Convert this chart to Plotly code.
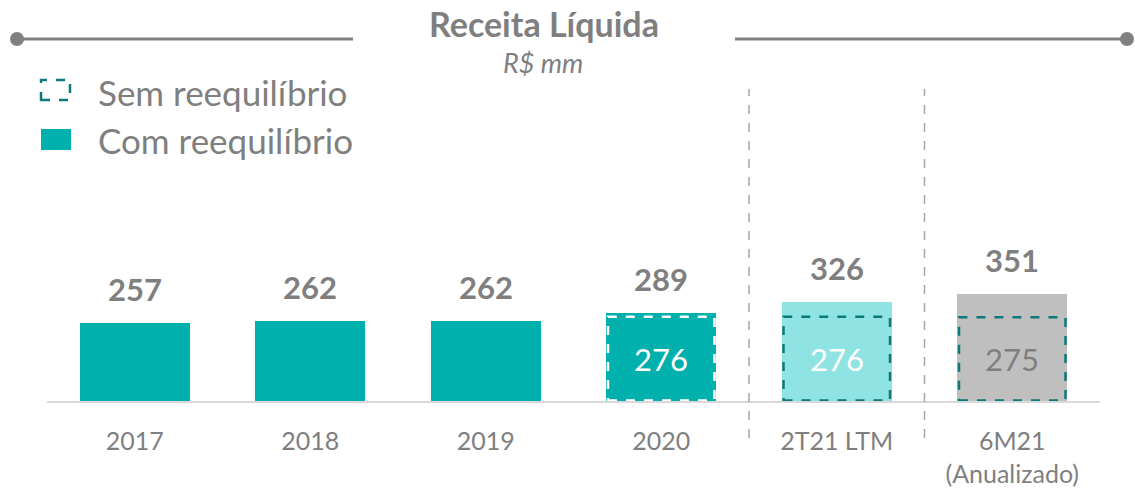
import plotly.graph_objects as go

categories = ["2017", "2018", "2019", "2020", "2T21 LTM", "6M21<br>(Anualizado)"]
com_reequilibrio = [257, 262, 262, 289, 326, 351]
sem_reequilibrio = [None, None, None, 276, 276, 275]
bar_colors = ["#00B0AD", "#00B0AD", "#00B0AD", "#00B0AD", "#8FE3E3", "#BFBFBF"]
box_colors = [None, None, None, "#FFFFFF", "#0B7A78", "#0B7A78"]
inner_text_colors = [None, None, None, "#FFFFFF", "#FFFFFF", "#7F7F7F"]

GRAY = "#7F7F7F"
FONT = "Lato"
W, H = 1135, 492
ML, MR, MT, MB = 47, 35, 80, 91
PW, PH = W - ML - MR, H - MT - MB
BAR_W = 0.627


def px_x(p):
    return (p - ML) / PW


def px_y(p):
    return (H - MB - p) / PH


xs = list(range(len(categories)))

fig = go.Figure()
fig.add_trace(go.Bar(
    x=xs, y=com_reequilibrio, width=BAR_W,
    marker=dict(color=bar_colors, line=dict(width=0)),
    showlegend=False, hoverinfo="skip",
))

shapes = []
annotations = []

# value labels above bars
for x, v in zip(xs, com_reequilibrio):
    annotations.append(dict(
        x=x, y=v, xref="x", yref="y", text=f"<b>{v}</b>", showarrow=False,
        yanchor="bottom", yshift=13, font=dict(family=FONT, size=31, color=GRAY),
    ))

# dashed boxes for "Sem reequilíbrio"
for x, v, bc, tc in zip(xs, sem_reequilibrio, box_colors, inner_text_colors):
    if v is None:
        continue
    shapes.append(dict(
        type="rect", xref="x", yref="y",
        x0=x - BAR_W / 2 + 0.01, x1=x + BAR_W / 2 - 0.01, y0=1.5, y1=v,
        line=dict(color=bc, width=2.5, dash="dash"), fillcolor="rgba(0,0,0,0)",
        layer="above",
    ))
    annotations.append(dict(
        x=x, y=v / 2, xref="x", yref="y", text=str(v), showarrow=False,
        yanchor="middle", font=dict(family=FONT, size=31, color=tc),
    ))

# vertical separators
for sx in (3.5, 4.5):
    shapes.append(dict(
        type="line", xref="x", yref="paper", x0=sx, x1=sx,
        y0=px_y(438), y1=px_y(89),
        line=dict(color="#A6A6A6", width=1.5, dash="dash"),
    ))

# title decoration lines with dots
for x0, x1, dot in ((17, 353, 17), (735, 1127, 1127)):
    shapes.append(dict(
        type="line", xref="paper", yref="paper", x0=px_x(x0), x1=px_x(x1),
        y0=px_y(39), y1=px_y(39), line=dict(color="#808080", width=3),
    ))
    shapes.append(dict(
        type="circle", xref="paper", yref="paper", xsizemode="pixel", ysizemode="pixel",
        xanchor=px_x(dot), yanchor=px_y(39), x0=-7, x1=7, y0=-7, y1=7,
        fillcolor="#808080", line=dict(width=0),
    ))

# title and subtitle
annotations.append(dict(
    x=px_x(544), y=px_y(24), xref="paper", yref="paper", text="<b>Receita Líquida</b>",
    showarrow=False, xanchor="center", yanchor="middle",
    font=dict(family=FONT, size=34, color=GRAY),
))
annotations.append(dict(
    x=px_x(543), y=px_y(62), xref="paper", yref="paper", text="<i>R$ mm</i>",
    showarrow=False, xanchor="center", yanchor="middle",
    font=dict(family=FONT, size=27, color=GRAY),
))

# legend
shapes.append(dict(
    type="rect", xref="paper", yref="paper", x0=px_x(41), x1=px_x(70),
    y0=px_y(100), y1=px_y(80), line=dict(color="#0B7A78", width=2.5, dash="dash"),
))
shapes.append(dict(
    type="rect", xref="paper", yref="paper", x0=px_x(41), x1=px_x(71),
    y0=px_y(150), y1=px_y(129), fillcolor="#00B0AD", line=dict(width=0),
))
for txt, yy in (("Sem reequilíbrio", 92), ("Com reequilíbrio", 140)):
    annotations.append(dict(
        x=px_x(96), y=px_y(yy), xref="paper", yref="paper", text=txt, showarrow=False,
        xanchor="left", yanchor="middle", font=dict(family=FONT, size=35, color=GRAY),
    ))

fig.update_layout(
    template="none",
    width=W, height=H,
    margin=dict(l=ML, r=MR, t=MT, b=MB, pad=0, autoexpand=False),
    plot_bgcolor="white", paper_bgcolor="white",
    shapes=shapes, annotations=annotations, bargap=0,
    font=dict(family=FONT, color=GRAY),
    xaxis=dict(
        range=[-0.5, len(categories) - 0.5], tickmode="array", tickvals=xs, ticktext=categories,
        showgrid=False, zeroline=False, showline=True, linecolor="#D9D9D9", linewidth=2,
        ticks="", tickfont=dict(family=FONT, size=25, color=GRAY), ticklabelstandoff=17,
        automargin=False, fixedrange=True,
    ),
    yaxis=dict(range=[0, PH / 0.305], visible=False, automargin=False, fixedrange=True),
    showlegend=False,
)

fig.write_html("out.html", config={"displayModeBar": False},
               post_script="document.body.style.margin='0';")
